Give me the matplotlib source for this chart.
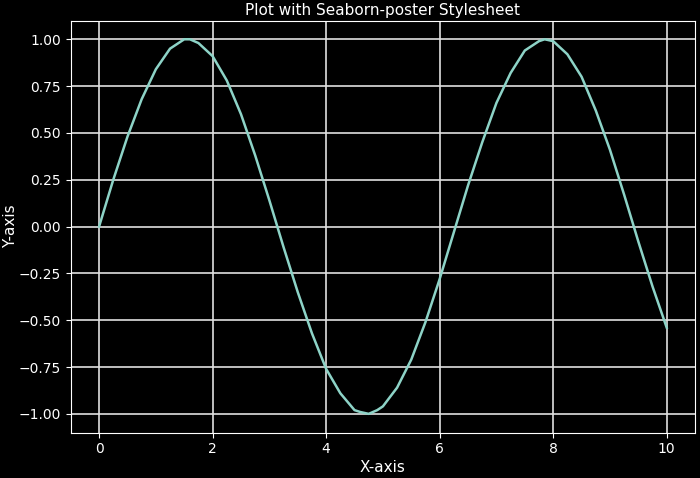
import matplotlib
matplotlib.use("Agg")
import matplotlib.pyplot as plt

# values
x_vals = [0.0, 0.25, 0.5, 0.75, 1.0, 1.25, 1.5, 1.6, 1.75, 2.0, 2.25, 2.5, 2.75,
          3.0, 3.25, 3.5, 3.75, 4.0, 4.25, 4.5, 4.6, 4.75, 4.9, 5.0, 5.25, 5.5, 5.75,
          6.0, 6.25, 6.5, 6.75, 7.0, 7.25, 7.5, 7.75, 7.85, 8.0, 8.25, 8.5, 8.75,
          9.0, 9.25, 9.5, 9.75, 10.0]
y_vals = [0.00, 0.25, 0.48, 0.68, 0.84, 0.95, 1.00, 1.00, 0.98, 0.91, 0.78, 0.60, 0.38,
          0.14, -0.11, -0.35, -0.57, -0.76, -0.89, -0.98, -0.99, -1.00, -0.98, -0.96, -0.86, -0.71, -0.51,
          -0.28, -0.03, 0.22, 0.45, 0.66, 0.82, 0.94, 0.99, 1.00, 0.99, 0.92, 0.80, 0.62,
          0.41, 0.17, -0.08, -0.32, -0.54]

plt.style.use("dark_background")
fig, ax = plt.subplots(figsize=(7, 4.78), dpi=100)
ax.plot(x_vals, y_vals, color="#8dd3c7", lw=1.8)
ax.grid(True, color="#e0e0e0", lw=1.2)
ax.set_axisbelow(True)
ax.set_yticks([-1.0, -0.75, -0.5, -0.25, 0.0, 0.25, 0.5, 0.75, 1.0])
ax.set_title("Plot with Seaborn-poster Stylesheet", fontsize=11, pad=4)
ax.set_xlabel("X-axis", fontsize=11, labelpad=3)
ax.set_ylabel("Y-axis", fontsize=11)
ax.yaxis.set_label_coords(-0.084, 0.5)
fig.subplots_adjust(left=0.101, right=0.993, bottom=0.095, top=0.957)
fig.savefig("out.png")
